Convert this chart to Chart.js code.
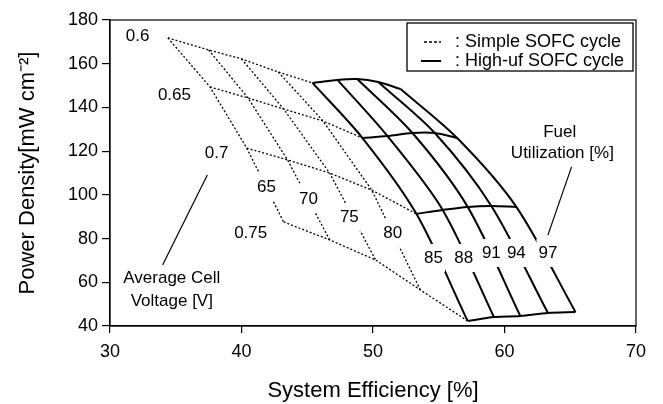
<!DOCTYPE html>
<html>
<head>
<meta charset="utf-8">
<script src="https://cdn.jsdelivr.net/npm/chart.js@4.4.1/dist/chart.umd.min.js"></script>
<style>
  html, body { margin: 0; padding: 0; background: #fff; }
  #wrap { width: 663px; height: 404px; }
</style>
</head>
<body>
<div id="wrap"><canvas id="chart" width="663" height="404"></canvas></div>
<script>
const xTicks = [30, 40, 50, 60, 70];
const yTicks = [40, 60, 80, 100, 120, 140, 160, 180];
const voltages = ['0.6', '0.65', '0.7', '0.75'];
const ufSimple = ['65', '70', '75', '80'];
const ufHigh = ['85', '88', '91', '94', '97'];

// simple SOFC cycle: one row per cell voltage, columns = uf 65,70,75,80,85
const simpleEff = [
  [34.4, 37.5, 40.0, 42.8, 45.4],
  [37.6, 40.5, 43.2, 46.2, 49.2],
  [40.4, 43.5, 46.7, 49.9, 53.3],
  [43.2, 46.7, 50.2, 53.6, 57.2]
];
const simplePow = [
  [171.8, 166.3, 162.2, 156.2, 151.2],
  [149.4, 144.3, 139.3, 133.8, 126.0],
  [121.4, 116.0, 110.0, 102.2, 91.3],
  [87.6, 79.4, 70.2, 56.5, 42.3]
];
// high-uf SOFC cycle: columns = uf 85,88,91,94,97
const highEff = [
  [45.4, 47.3, 48.8, 50.4, 52.1],
  [49.2, 51.1, 53.0, 54.7, 56.4],
  [53.3, 55.3, 57.2, 59.0, 60.9],
  [57.2, 59.2, 61.2, 63.3, 65.4]
];
const highPow = [
  [151.2, 152.6, 153.0, 151.6, 148.4],
  [126.0, 126.9, 128.3, 128.3, 126.0],
  [91.3, 93.1, 94.5, 94.9, 94.5],
  [42.3, 44.1, 44.6, 46.0, 46.4]
];

// where the labels sit (data units)
const voltLabelX = [32.1, 34.9, 38.1, 40.7];
const voltLabelY = [172.7, 145.7, 119.2, 82.6];
const ufSimpleLabelX = [41.9, 45.1, 48.2, 51.5];
const ufSimpleLabelY = [103.6, 98.1, 89.9, 82.6];
const ufHighLabelX = [54.6, 56.9, 59.0, 60.9, 63.3];
const ufHighLabelY = [71.1, 71.1, 73.4, 73.4, 73.4];
const voltLeaderX = [37.4, 34.0];
const voltLeaderY = [109.1, 67.9];
const fuelLeaderX = [65.1, 63.3];
const fuelLeaderY = [112.8, 81.6];

const FONT = '"Liberation Sans", Arial, Helvetica, sans-serif';

function pts(xs, ys) { return xs.map((x, i) => ({ x, y: ys[i] })); }
function col(m, c) { return m.map(r => r[c]); }

const dashed = { borderColor: '#000', borderWidth: 1.3, borderDash: [2, 2], pointRadius: 0, showLine: true, tension: 0, fill: false };
const solid = { borderColor: '#000', borderWidth: 2, pointRadius: 0, showLine: true, tension: 0.3, fill: false };
const thin = { borderColor: '#000', borderWidth: 1.2, pointRadius: 0, showLine: true, tension: 0, fill: false };

const datasets = [];
simpleEff.forEach((row, r) => datasets.push({ ...dashed, data: pts(row, simplePow[r]) }));
ufSimple.forEach((u, c) => datasets.push({ ...dashed, data: pts(col(simpleEff, c), col(simplePow, c)) }));
highEff.forEach((row, r) => datasets.push({ ...solid, data: pts(row, highPow[r]) }));
ufHigh.forEach((u, c) => datasets.push({ ...solid, data: pts(col(highEff, c), col(highPow, c)) }));
datasets.push({ ...thin, data: pts(voltLeaderX, voltLeaderY) });
datasets.push({ ...thin, data: pts(fuelLeaderX, fuelLeaderY) });

const annotations = {
  id: 'annotations',
  afterDatasetsDraw(chart) {
    const { ctx, scales: { x, y } } = chart;
    ctx.save();
    ctx.textAlign = 'center';
    ctx.textBaseline = 'middle';
    ctx.fillStyle = '#000';
    ctx.font = `17px ${FONT}`;
    const boxed = (t, vx, vy) => {
      const px = x.getPixelForValue(vx), py = y.getPixelForValue(vy);
      const w = ctx.measureText(t).width + 4;
      ctx.fillStyle = '#fff';
      ctx.fillRect(px - w / 2, py - 14, w, 28);
      ctx.fillStyle = '#000';
      ctx.fillText(t, px, py);
    };
    ufSimple.forEach((t, i) => boxed(t, ufSimpleLabelX[i], ufSimpleLabelY[i]));
    ufHigh.forEach((t, i) => boxed(t, ufHighLabelX[i], ufHighLabelY[i]));
    voltages.forEach((t, i) => ctx.fillText(t, x.getPixelForValue(voltLabelX[i]), y.getPixelForValue(voltLabelY[i])));

    ctx.fillText('Average Cell', x.getPixelForValue(34.7), y.getPixelForValue(62.0));
    ctx.fillText('Voltage [V]', x.getPixelForValue(34.7), y.getPixelForValue(51.5));
    ctx.fillText('Fuel', x.getPixelForValue(64.2), y.getPixelForValue(128.8));
    ctx.fillText('Utilization [%]', x.getPixelForValue(64.4), y.getPixelForValue(119.2));

    // frame
    const a = chart.chartArea;
    ctx.strokeStyle = '#000';
    ctx.lineWidth = 1.2;
    ctx.strokeRect(a.left, a.top, a.right - a.left, a.bottom - a.top);

    // legend
    ctx.lineWidth = 1.3;
    ctx.strokeRect(407, 23, 226, 48);
    ctx.beginPath();
    ctx.setLineDash([3, 2]);
    ctx.moveTo(424, 42); ctx.lineTo(441, 42);
    ctx.stroke();
    ctx.setLineDash([]);
    ctx.lineWidth = 2;
    ctx.beginPath();
    ctx.moveTo(421, 61); ctx.lineTo(441, 61);
    ctx.stroke();
    ctx.font = `18px ${FONT}`;
    ctx.textAlign = 'left';
    ctx.fillText(': Simple SOFC cycle', 455, 42);
    ctx.fillText(': High-uf SOFC cycle', 455, 61);
    ctx.restore();
  }
};

new Chart(document.getElementById('chart'), {
  type: 'scatter',
  data: { datasets },
  plugins: [annotations],
  options: {
    responsive: false,
    animation: false,
    devicePixelRatio: 1,
    layout: { padding: { top: 20, right: 27, left: 0, bottom: 0 } },
    plugins: { legend: { display: false }, tooltip: { enabled: false } },
    scales: {
      x: {
        type: 'linear', min: 30, max: 70,
        afterBuildTicks(s) { s.ticks = xTicks.map(v => ({ value: v })); },
        afterFit(s) { s.height = 78; },
        ticks: { color: '#000', font: { family: FONT, size: 18 }, padding: 8, maxRotation: 0 },
        grid: { drawOnChartArea: false, drawTicks: true, tickLength: 7, color: '#000', lineWidth: 1.2 },
        border: { color: '#000', width: 1.2 },
        title: { display: true, text: 'System Efficiency [%]', color: '#000', font: { family: FONT, size: 22 }, padding: { top: 0, bottom: 0 } }
      },
      y: {
        type: 'linear', min: 40, max: 180,
        afterBuildTicks(s) { s.ticks = yTicks.map(v => ({ value: v })); },
        afterFit(s) { s.width = 110; },
        ticks: { color: '#000', font: { family: FONT, size: 18 }, padding: 4 },
        grid: { drawOnChartArea: false, drawTicks: true, tickLength: 8, color: '#000', lineWidth: 1.2 },
        border: { color: '#000', width: 1.2 },
        title: { display: true, text: 'Power Density[mW cm⁻²]', color: '#000', font: { family: FONT, size: 22 }, padding: { top: 15, bottom: 0 } }
      }
    }
  }
});
</script>
</body>
</html>
